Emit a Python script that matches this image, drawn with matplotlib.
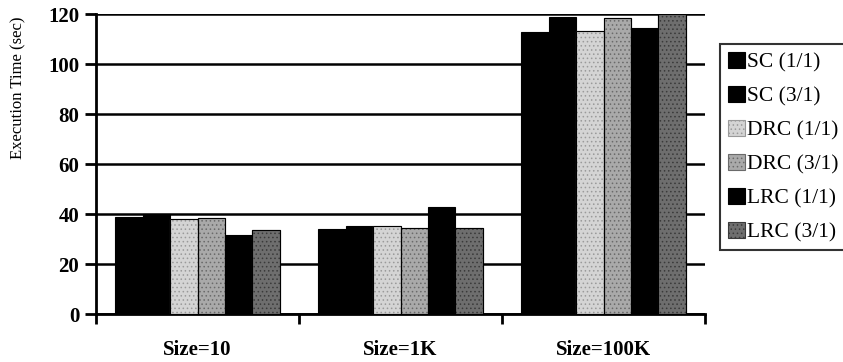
import matplotlib
matplotlib.use("Agg")
import matplotlib.pyplot as plt
import numpy as np

categories = ["Size=10", "Size=1K", "Size=100K"]
series = ["SC (1/1)", "SC (3/1)", "DRC (1/1)", "DRC (3/1)", "LRC (1/1)", "LRC (3/1)"]
sc_11 = [38.7, 34.0, 112.7]
sc_31 = [40.0, 35.2, 118.9]
drc_11 = [38.2, 35.4, 113.3]
drc_31 = [38.6, 34.6, 118.3]
lrc_11 = [31.5, 42.8, 114.3]
lrc_31 = [33.6, 34.5, 120.0]
values = [sc_11, sc_31, drc_11, drc_31, lrc_11, lrc_31]
yticks = [0, 20, 40, 60, 80, 100, 120]

faces = ["#000000", "#000000", "#d4d4d4", "#a9a9a9", "#000000", "#6e6e6e"]
hatches = [None, None, "....", "....", None, "...."]
hatch_cols = [None, None, "#9a9a9a", "#6a6a6a", None, "#3a3a3a"]

plt.rcParams["font.family"] = ["Liberation Serif", "DejaVu Serif"]
plt.rcParams["hatch.linewidth"] = 0.6

fig = plt.figure(figsize=(8.43, 3.62), dpi=100)
ax = fig.add_axes([96 / 843, 1 - 314 / 362, 609 / 843, 300 / 362])

x = np.arange(len(categories))
bw = 0.135
for i, (name, vals) in enumerate(zip(series, values)):
    off = (i - 2.5) * bw
    bars = ax.bar(x + off, vals, bw, color=faces[i], edgecolor="black",
                  linewidth=0.8, label=name, zorder=3)
    if hatches[i]:
        for b in bars:
            b.set_hatch(hatches[i])
            b.set_edgecolor(hatch_cols[i])
        ax.bar(x + off, vals, bw, fill=False, edgecolor="black", linewidth=0.8, zorder=4)

ax.set_xlim(-0.5, 2.5)
ax.set_ylim(0, 120)
ax.set_yticks(yticks)
ax.set_yticklabels([str(t) for t in yticks], fontsize=15, fontweight="bold")
ax.set_xticks(x)
ax.set_xticklabels(categories, fontsize=15, fontweight="bold")
ax.set_xticks([-0.5, 0.5, 1.5, 2.5], minor=True)
ax.tick_params(axis="x", which="major", length=0, pad=19)
ax.tick_params(axis="x", which="minor", length=7, width=2, direction="out")
ax.tick_params(axis="y", length=8, width=2, direction="out", pad=4)

ax.yaxis.grid(True, color="black", linewidth=1.8, zorder=0)
ax.set_axisbelow(True)
for s in ["top", "right"]:
    ax.spines[s].set_visible(False)
ax.spines["left"].set_linewidth(2)
ax.spines["bottom"].set_linewidth(2)

fig.text(18 / 843, 1 - 88 / 362, "Execution Time (sec)", rotation=90,
         ha="center", va="center", fontsize=12)

handles, labels = ax.get_legend_handles_labels()
leg = fig.legend(handles[:6], labels[:6], loc="upper left",
                 bbox_to_anchor=(720 / 843, 1 - 44 / 362),
                 fontsize=15.5, frameon=True, fancybox=False, edgecolor="black",
                 handlelength=0.8, handleheight=0.8, handletextpad=0.12,
                 labelspacing=0.62, borderpad=0.35, borderaxespad=0)
leg.get_frame().set_linewidth(1.5)

fig.savefig("out.png", dpi=100)
